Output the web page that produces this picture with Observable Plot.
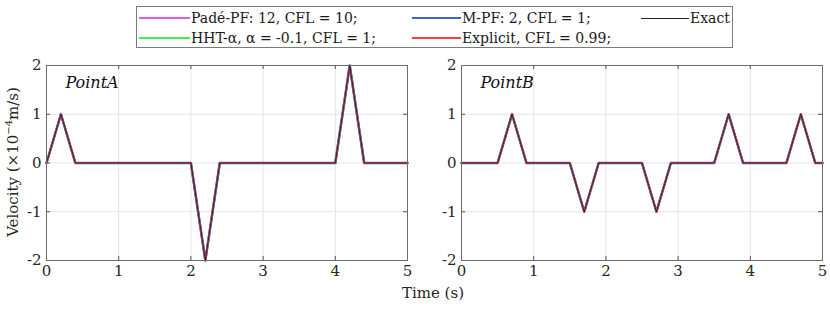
<!DOCTYPE html>
<html>
<head>
<meta charset="utf-8">
<script src="https://cdn.jsdelivr.net/npm/d3@7"></script>
<script src="https://cdn.jsdelivr.net/npm/@observablehq/plot@0.6"></script>
<style>
  html, body { margin: 0; padding: 0; background: #fff; }
  #root { position: relative; width: 830px; height: 309px; font-family: "DejaVu Serif", serif; color: #262626; }
  .abs { position: absolute; }
  #legend { position: absolute; left: 136px; top: 6px; width: 595px; height: 40px; border: 1px solid #7a7a7a; box-sizing: content-box; }
  .lg-line { position: absolute; height: 0; }
  .lg-text { position: absolute; font-size: 14px; line-height: 16px; white-space: nowrap; color: #1a1a1a; }
  #xlabel { position: absolute; left: 0; width: 866px; top: 284px; text-align: center; font-size: 15px; color: #262626; }
  #ylabel { position: absolute; left: 12px; top: 162px; transform: translate(-50%, -50%) rotate(-90deg); font-size: 15px; white-space: nowrap; color: #262626; }
  #ylabel sup { font-size: 10px; }
</style>
</head>
<body>
<div id="root"></div>
<script>
// ---- data ----
const seriesNames = ["Padé-PF: 12, CFL = 10;", "M-PF: 2, CFL = 1;", "Exact", "HHT-α, α = -0.1, CFL = 1;", "Explicit, CFL = 0.99;"];
const seriesColors = ["#e35ae8", "#3a63d8", "#222222", "#44ee44", "#ff3b3b"];
const timeA = [0, 0.2, 0.4, 2.0, 2.2, 2.4, 4.0, 4.2, 4.4, 5.0];
const velA  = [0, 1,   0,   0,   -2,  0,   0,   2,   0,   0];
const timeB = [0, 0.5, 0.7, 0.9, 1.5, 1.7, 1.9, 2.5, 2.7, 2.9, 3.5, 3.7, 3.9, 4.5, 4.7, 4.9, 5.0];
const velB  = [0, 0,   1,   0,   0,   -1,  0,   0,   -1,  0,   0,   1,   0,   0,   1,   0,   0];
const xTicks = [0, 1, 2, 3, 4, 5];
const yTicks = [-2, -1, 0, 1, 2];
const panelTitles = ["PointA", "PointB"];

// draw order and widths for overlapping series
const drawOrder = [
  {name: seriesNames[0], color: seriesColors[0], w: 2.2},
  {name: seriesNames[3], color: seriesColors[3], w: 2.2},
  {name: seriesNames[1], color: seriesColors[1], w: 2.4},
  {name: seriesNames[4], color: seriesColors[4], w: 1.6},
  {name: seriesNames[2], color: seriesColors[2], w: 0.9}
];

const root = document.getElementById("root");

function makePanel(times, vals, title, left) {
  const data = times.map((t, i) => ({t, v: vals[i]}));
  const H = 309, mT = 65, mB = 49;
  const plotH = H - mT - mB;
  const W = 415, mL = 46, mR = 8;
  const plotW = W - mL - mR;
  const marks = [
    Plot.gridX(xTicks, {stroke: "#e3e3e3", strokeOpacity: 1}),
    Plot.gridY(yTicks, {stroke: "#e3e3e3", strokeOpacity: 1}),
    // inward ticks (bottom, top, left, right)
    Plot.tickX(xTicks, {x: d => d, insetTop: plotH - 4, stroke: "#555"}),
    Plot.tickX(xTicks, {x: d => d, insetBottom: plotH - 4, stroke: "#555"}),
    Plot.tickY(yTicks, {y: d => d, insetRight: plotW - 4, stroke: "#555"}),
    Plot.tickY(yTicks, {y: d => d, insetLeft: plotW - 4, stroke: "#555"}),
    ...drawOrder.map(s => Plot.line(data, {x: "t", y: "v", stroke: s.color, strokeWidth: s.w})),
    Plot.frame({stroke: "#6b6b6b", strokeWidth: 1}),
    Plot.axisX(xTicks, {tickSize: 0, tickPadding: 5, fontSize: 15, tickFormat: d => String(d), fill: "#262626"}),
    Plot.axisY(yTicks, {tickSize: 0, tickPadding: 5, fontSize: 15, tickFormat: d => String(d), fill: "#262626"}),
    Plot.text([title], {frameAnchor: "top-left", dx: 19, dy: 11, text: d => d, fontSize: 16, fontStyle: "italic", fill: "#111", textAnchor: "start", lineAnchor: "top"})
  ];
  const svg = Plot.plot({
    width: W, height: H,
    marginTop: mT, marginBottom: mB, marginLeft: mL, marginRight: mR,
    x: {domain: [0, 5], label: null, axis: null},
    y: {domain: [-2, 2], label: null, axis: null},
    style: {fontFamily: "'DejaVu Serif', serif", background: "transparent", overflow: "visible"},
    marks
  });
  svg.style.position = "absolute";
  svg.style.left = left + "px";
  svg.style.top = "0px";
  root.appendChild(svg);
}

makePanel(timeA, velA, panelTitles[0], 0);
makePanel(timeB, velB, panelTitles[1], 415);

// legend
const legend = document.createElement("div");
legend.id = "legend";
root.appendChild(legend);
const legendItems = [
  {i: 0, lx: 2,   lw: 51, tx: 54,  ty: 11},
  {i: 1, lx: 275, lw: 49, tx: 325, ty: 11},
  {i: 2, lx: 504, lw: 48, tx: 553, ty: 11},
  {i: 3, lx: 2,   lw: 51, tx: 54,  ty: 31},
  {i: 4, lx: 275, lw: 49, tx: 325, ty: 31}
];
legendItems.forEach(it => {
  const line = document.createElement("div");
  line.className = "lg-line";
  const lwid = it.i === 2 ? 1 : 2;
  line.style.left = it.lx + "px";
  line.style.width = it.lw + "px";
  line.style.top = (it.ty - lwid / 2) + "px";
  line.style.borderTop = lwid + "px solid " + seriesColors[it.i];
  legend.appendChild(line);
  const txt = document.createElement("div");
  txt.className = "lg-text";
  txt.style.left = it.tx + "px";
  txt.style.top = (it.ty - 8) + "px";
  txt.textContent = seriesNames[it.i];
  legend.appendChild(txt);
});

const xl = document.createElement("div");
xl.id = "xlabel";
xl.textContent = "Time (s)";
root.appendChild(xl);

const yl = document.createElement("div");
yl.id = "ylabel";
yl.innerHTML = "Velocity (×10<sup>−4</sup>m/s)";
root.appendChild(yl);
</script>
</body>
</html>
